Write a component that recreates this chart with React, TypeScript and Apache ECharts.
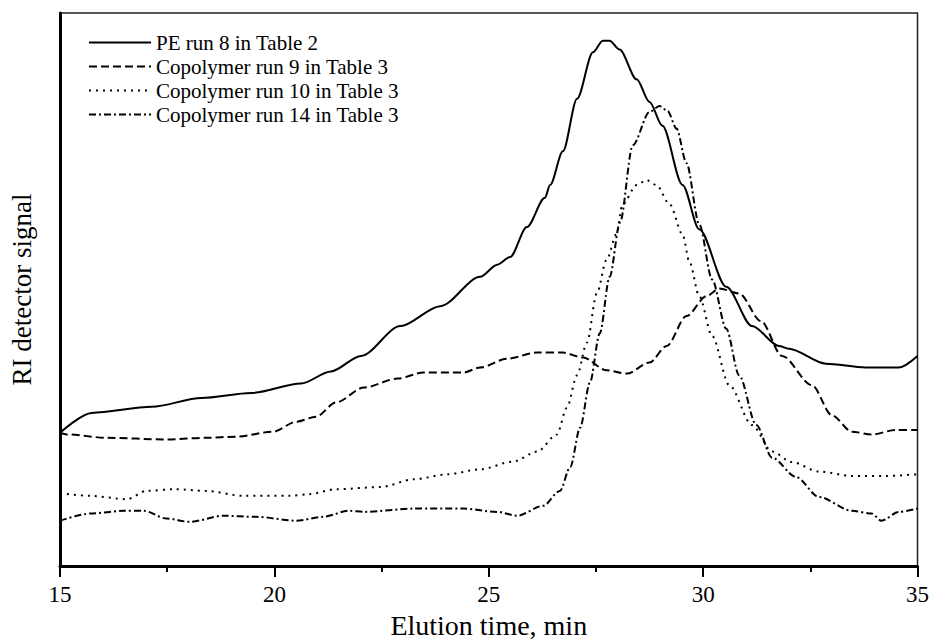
import React, { useEffect, useRef } from "react";
import * as echarts from "echarts";

const xTicks = [15, 20, 25, 30, 35];

const peRun8: [number, number][] = [
  [15.0, 24.1], [15.74, 27.7], [17.14, 28.8], [18.3, 30.4], [19.46, 31.3], [20.62, 33.0],
  [21.32, 35.2], [22.02, 38.0], [22.94, 43.4], [23.87, 47.0], [24.8, 52.3], [25.2, 54.5],
  [25.5, 55.9], [25.89, 61.3], [26.31, 66.6], [26.43, 68.9], [26.73, 75.0], [27.06, 84.5],
  [27.43, 92.9], [27.66, 95.0], [27.82, 95.0], [28.05, 93.4], [28.45, 88.0], [28.75, 83.9],
  [29.05, 79.6], [29.52, 68.9], [29.91, 60.9], [30.54, 50.5], [31.14, 43.4], [31.77, 39.8],
  [32.0, 39.3], [32.86, 36.6], [33.79, 35.9], [34.56, 35.9], [35.0, 38.0],
];

const copoRun9: [number, number][] = [
  [15.0, 24.1], [15.16, 23.8], [16.09, 23.2], [17.49, 22.9], [18.41, 23.2], [19.11, 23.4],
  [19.97, 24.3], [20.51, 26.1], [20.97, 27.0], [21.44, 29.6], [22.09, 32.3], [22.87, 33.9],
  [23.48, 35.0], [24.41, 35.0], [24.8, 35.9], [25.43, 37.5], [26.13, 38.6], [26.73, 38.6],
  [27.2, 37.7], [27.75, 35.4], [28.22, 34.8], [28.75, 36.8], [29.15, 39.8], [29.61, 45.2],
  [30.08, 48.8], [30.38, 50.2], [30.84, 49.3], [31.35, 44.3], [31.84, 38.0], [32.54, 32.7],
  [33.0, 27.3], [33.47, 24.3], [33.93, 23.8], [34.49, 24.6], [35.0, 24.6],
];

const copoRun10: [number, number][] = [
  [15.0, 13.2], [15.7, 12.7], [16.56, 12.1], [17.02, 13.6], [17.65, 13.9], [18.41, 13.6],
  [19.27, 12.7], [20.34, 12.7], [20.81, 13.0], [21.44, 13.9], [22.48, 14.3], [23.25, 15.7],
  [24.04, 16.6], [24.8, 17.5], [25.57, 18.9], [26.13, 20.7], [26.59, 23.8], [26.82, 28.6],
  [27.06, 34.5], [27.29, 40.4], [27.52, 49.3], [27.75, 55.4], [27.98, 60.0], [28.12, 65.4],
  [28.45, 68.9], [28.68, 69.8], [28.91, 68.9], [29.22, 65.4], [29.52, 60.0], [29.68, 55.0],
  [29.91, 48.8], [30.21, 41.6], [30.61, 32.7], [31.14, 25.5], [31.61, 20.7], [32.07, 18.8],
  [32.7, 17.1], [33.47, 16.3], [34.26, 16.3], [35.0, 16.6],
];

const copoRun14: [number, number][] = [
  [15.0, 8.2], [15.7, 9.5], [16.49, 10.0], [16.95, 10.0], [17.49, 8.6], [18.02, 8.0],
  [18.81, 9.1], [19.58, 8.9], [20.51, 8.2], [21.13, 8.9], [21.74, 10.0], [22.09, 9.8],
  [23.25, 10.4], [24.41, 10.4], [25.2, 9.8], [25.66, 9.1], [26.27, 10.9], [26.66, 13.6],
  [26.9, 17.9], [27.13, 25.0], [27.36, 33.2], [27.59, 42.1], [27.82, 52.3], [28.06, 62.1],
  [28.36, 76.1], [28.75, 82.1], [28.98, 83.2], [29.17, 82.3], [29.38, 79.1], [29.61, 72.9],
  [29.91, 61.8], [30.21, 51.8], [30.54, 42.9], [30.84, 34.5], [31.24, 25.5], [31.61, 19.6],
  [32.17, 16.1], [32.7, 12.5], [33.47, 10.0], [33.93, 9.5], [34.16, 8.2], [34.56, 9.8],
  [35.0, 10.4],
];

const seriesNames = [
  "PE run 8 in Table 2",
  "Copolymer run 9 in Table 3",
  "Copolymer run 10 in Table 3",
  "Copolymer run 14 in Table 3",
];

const FONT = "'Liberation Serif', 'Times New Roman', serif";

export default function App() {
  const ref = useRef<HTMLDivElement>(null);
  useEffect(() => {
    if (!ref.current) return;
    const chart = echarts.init(ref.current, undefined, { renderer: "svg" });
    const mk = (name: string, data: [number, number][], type: any) => ({
      name,
      type: "line",
      data,
      showSymbol: false,
      symbol: "none",
      smooth: 0.3,
      smoothMonotone: "x",
      lineStyle: { color: "#000", width: 2, type },
      itemStyle: { color: "#000" },
    });
    chart.setOption({
      animation: false,
      backgroundColor: "#fff",
      grid: {
        left: 58,
        right: 13,
        top: 13,
        bottom: 71,
        show: true,
        borderColor: "#222",
        borderWidth: 1.5,
      },
      legend: {
        left: 83,
        top: 27,
        orient: "vertical",
        itemWidth: 62,
        itemHeight: 14,
        itemGap: 3,
        itemStyle: { opacity: 0 },
        textStyle: { fontFamily: FONT, fontSize: 21, lineHeight: 21, color: "#000" },
        data: seriesNames,
      },
      xAxis: {
        type: "value",
        min: xTicks[0],
        max: xTicks[xTicks.length - 1],
        interval: 5,
        name: "Elution time, min",
        nameLocation: "middle",
        nameGap: 43,
        nameTextStyle: { fontFamily: FONT, fontSize: 28, color: "#000" },
        axisLine: { show: true, lineStyle: { color: "#000", width: 3 } },
        axisTick: { show: true, inside: false, length: 11, lineStyle: { color: "#000", width: 2 } },
        minorTick: { show: true, splitNumber: 2, length: 6, lineStyle: { color: "#000", width: 2 } },
        axisLabel: { fontFamily: FONT, fontSize: 23, color: "#000", margin: 17 },
        splitLine: { show: false },
      },
      yAxis: {
        type: "value",
        min: 0,
        max: 100,
        name: "RI detector signal",
        nameLocation: "middle",
        nameGap: 25,
        nameTextStyle: { fontFamily: FONT, fontSize: 27, color: "#000" },
        axisLine: { show: true, lineStyle: { color: "#000", width: 3 } },
        axisTick: { show: false },
        axisLabel: { show: false },
        splitLine: { show: false },
      },
      series: [
        mk(seriesNames[0], peRun8, "solid"),
        mk(seriesNames[1], copoRun9, [8, 4]),
        mk(seriesNames[2], copoRun10, [2, 5]),
        mk(seriesNames[3], copoRun14, [7, 3, 2, 3]),
      ],
    });
    return () => chart.dispose();
  }, []);
  return (
    <div
      ref={ref}
      style={{ position: "fixed", left: 0, top: 0, width: 932, height: 644, background: "#fff" }}
    />
  );
}
